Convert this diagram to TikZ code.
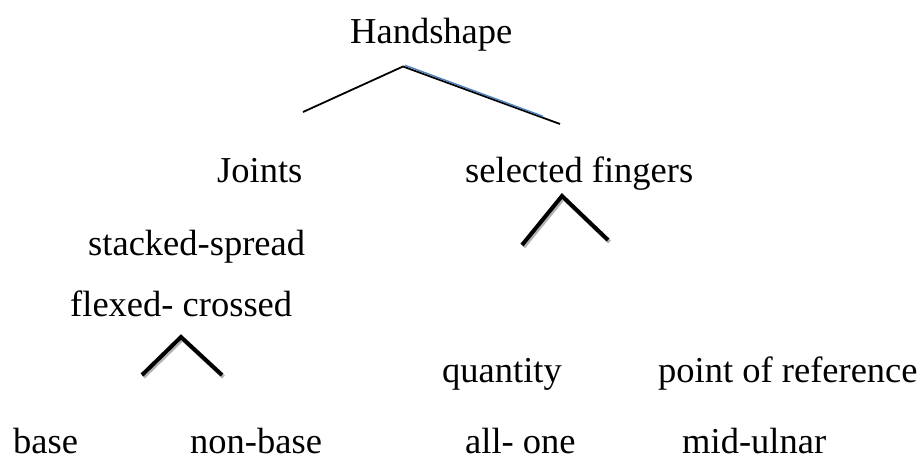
\documentclass[tikz,border=0pt]{standalone}
\usepackage{fontspec}
\setmainfont{Liberation Serif}
\begin{document}
\begin{tikzpicture}[x=1pt,y=-1pt,
  lbl/.style={anchor=base west,inner sep=0pt,font=\fontsize{36.5}{40}\selectfont},
  thinline/.style={line width=1.8pt,black},
  chev/.style={line width=4pt,black,line join=miter},
  chevshadow/.style={line width=4pt,black!30,line join=miter}]
\useasboundingbox (0,0) rectangle (923,463);
\node[lbl] (hand) at (350,43) {Handshape};
\node[lbl] (joints) at (217,182) {Joints};
\node[lbl] (sel) at (465,182) {selected fingers};
\node[lbl] (stack) at (88,255) {stacked-spread};
\node[lbl] (flex) at (70,316) {flexed- crossed};
\node[lbl] (quant) at (442,382) {quantity};
\node[lbl] (por) at (658,382) {point of reference};
\node[lbl] (base) at (13,453) {base};
\node[lbl] (nonbase) at (190,453) {non-base};
\node[lbl] (allone) at (465,453) {all- one};
\node[lbl] (mid) at (682,453) {mid-ulnar};
% top branches
\coordinate (top) at (403,66.5);
\coordinate (tl) at (303,112);
\coordinate (tr) at (560,124);
\draw[thinline] (tl) -- (top) -- (tr);
\draw[line width=1.4pt,color={rgb,255:red,79;green,129;blue,189}] (405,65.3) -- (543,116.3);
% chevron under selected fingers
\coordinate (c1l) at (522,245);
\coordinate (c1a) at (562,196);
\coordinate (c1r) at (608,240);
\draw[chevshadow] ([shift={(1.5,2)}]c1l) -- ([shift={(1.5,2)}]c1a) -- ([shift={(1.5,2)}]c1r);
\draw[chev] (c1l) -- (c1a) -- (c1r);
% chevron under flexed- crossed
\coordinate (c2l) at (142,375);
\coordinate (c2a) at (181,337);
\coordinate (c2r) at (222,375);
\draw[chevshadow] ([shift={(1.5,2)}]c2l) -- ([shift={(1.5,2)}]c2a) -- ([shift={(1.5,2)}]c2r);
\draw[chev] (c2l) -- (c2a) -- (c2r);
\end{tikzpicture}
\end{document}
